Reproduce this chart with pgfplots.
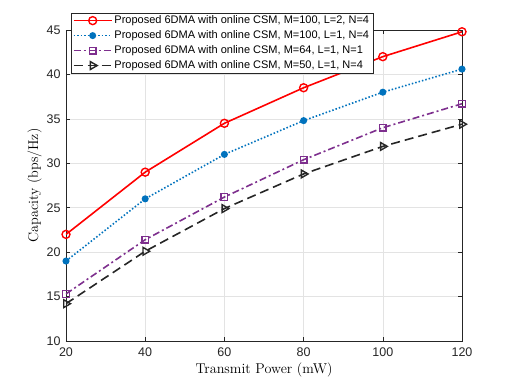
\documentclass[border=0pt]{standalone}
\usepackage{fontspec}
\usepackage{pgfplots}
\pgfplotsset{compat=1.18}
\newfontfamily\arial{Liberation Sans}
\definecolor{mred}{rgb}{1,0,0}
\definecolor{mblue}{rgb}{0,0.447,0.741}
\definecolor{mpurple}{rgb}{0.494,0.184,0.556}
\definecolor{mblack}{rgb}{0.15,0.15,0.15}
\begin{document}
\begin{tikzpicture}
\begin{axis}[
  at={(0,0)}, anchor=south west,
  scale only axis,
  width=396pt, height=311pt,
  xmin=20, xmax=120, ymin=10, ymax=45,
  xtick={20,40,...,120},
  ytick={10,15,...,45},
  grid=major,
  major grid style={gray!22, line width=0.5pt},
  axis line style={mblack, line width=0.5pt},
  tick style={mblack, line width=0.5pt},
  tick align=inside,
  major tick length=4pt,
  /pgf/number format/assume math mode=true,
  ticklabel style={font=\arial\fontsize{12.5}{14}\selectfont, text=mblack},
  xticklabel style={yshift=-3pt},
  yticklabel style={xshift=-2pt},
  xlabel={Transmit Power (mW)},
  ylabel={Capacity (bps/Hz)},
  label style={font=\fontsize{14.2}{16}\selectfont},
  ylabel style={yshift=-2pt},
  legend style={at={(0.012,1.0556)}, anchor=north west,
    font=\arial\fontsize{11}{13}\selectfont,
    draw=mblack, fill=white,
    row sep=1.5pt, inner xsep=2pt, inner ysep=1pt},
  legend cell align=left,
  legend image code/.code={
    \draw[line width=1.5pt, mark repeat=2, mark phase=2] plot coordinates {(0pt,0pt) (19pt,0pt) (38pt,0pt)};
  },
]
\addplot[mred, line width=1.6pt, mark=o, mark size=4pt, mark options={solid, line width=1.4pt}] coordinates {
  (20,22.0) (40,29.0) (60,34.5) (80,38.5) (100,42.0) (120,44.8)
};
\addlegendentry{Proposed 6DMA with online CSM, M=100, L=2, N=4}
\addplot[mblue, line width=1.6pt, dash pattern=on 1.5pt off 2pt, mark=*, mark size=2.7pt, mark options={solid}] coordinates {
  (20,19.0) (40,26.0) (60,31.0) (80,34.8) (100,38.0) (120,40.6)
};
\addlegendentry{Proposed 6DMA with online CSM, M=100, L=1, N=4}
\addplot[mpurple, line width=1.6pt, dash pattern=on 7pt off 3pt on 2pt off 3pt, mark=square, mark size=3.3pt, mark options={solid, line width=1.4pt}] coordinates {
  (20,15.3) (40,21.4) (60,26.2) (80,30.4) (100,34.0) (120,36.7)
};
\addlegendentry{Proposed 6DMA with online CSM, M=64, L=1, N=1}
\addplot[mblack, line width=1.6pt, dash pattern=on 9pt off 5pt, mark=triangle, mark size=4.5pt, mark options={solid, rotate=-90, line width=1.4pt}] coordinates {
  (20,14.2) (40,20.1) (60,24.9) (80,28.8) (100,31.9) (120,34.4)
};
\addlegendentry{Proposed 6DMA with online CSM, M=50, L=1, N=4}
\end{axis}
\pgfresetboundingbox
\path (-66pt,-42pt) rectangle (445pt,341pt);
\end{tikzpicture}
\end{document}
